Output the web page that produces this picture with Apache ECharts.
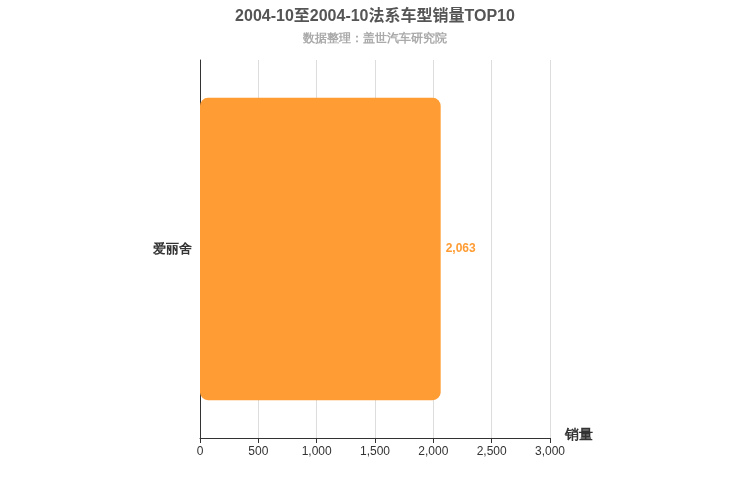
<!DOCTYPE html>
<html><head><meta charset="utf-8">
<script src="https://cdn.jsdelivr.net/npm/echarts@6/dist/echarts.min.js"></script>
<style>html,body{margin:0;padding:0}#c{width:750px;height:500px}</style>
</head><body><div id="c"></div>
<script>
const categories = ['爱丽舍'];
const sales = [2063];
const xTicks = [0, 500, 1000, 1500, 2000, 2500, 3000];
const chart = echarts.init(document.getElementById('c'));
chart.setOption({
  title: {text: '2004-10至2004-10法系车型销量TOP10', subtext: '数据整理：盖世汽车研究院', left: 'center', top: 4,
    textStyle: {fontSize: 16, fontWeight: 'bold', color: '#555', fontFamily: 'Liberation Sans, Noto Sans CJK SC'},
    subtextStyle: {fontSize: 12, fontWeight: 'bold', color: '#aaa'}, itemGap: 8},
  grid: {left: 200, right: 200, top: 60, bottom: 62},
  xAxis: {type: 'value', min: xTicks[0], max: xTicks[xTicks.length-1], interval: 500,
    name: '销量', nameLocation: 'end', nameGap: 15, nameTextStyle: {fontSize: 14, fontWeight: 'bold', color: '#333', verticalAlign: 'top', padding: [-10,0,0,0]},
    axisLine: {show: true, lineStyle: {color: '#333'}}, axisTick: {show: true},
    axisLabel: {color: '#333', fontSize: 12}, splitLine: {lineStyle: {color: '#ddd'}}},
  yAxis: {type: 'category', data: categories, axisLine: {lineStyle: {color: '#333'}},
    axisLabel: {color: '#333', fontSize: 13, fontWeight: 'bold'}},
  series: [{type: 'bar', data: sales, barWidth: '80%',
    itemStyle: {color: '#ff9c33', borderRadius: 8},
    label: {show: true, position: 'right', color: '#ff9c33', fontWeight: 'bold', fontSize: 12,
      formatter: p => p.value.toLocaleString('en-US')}}]
});
</script></body></html>
